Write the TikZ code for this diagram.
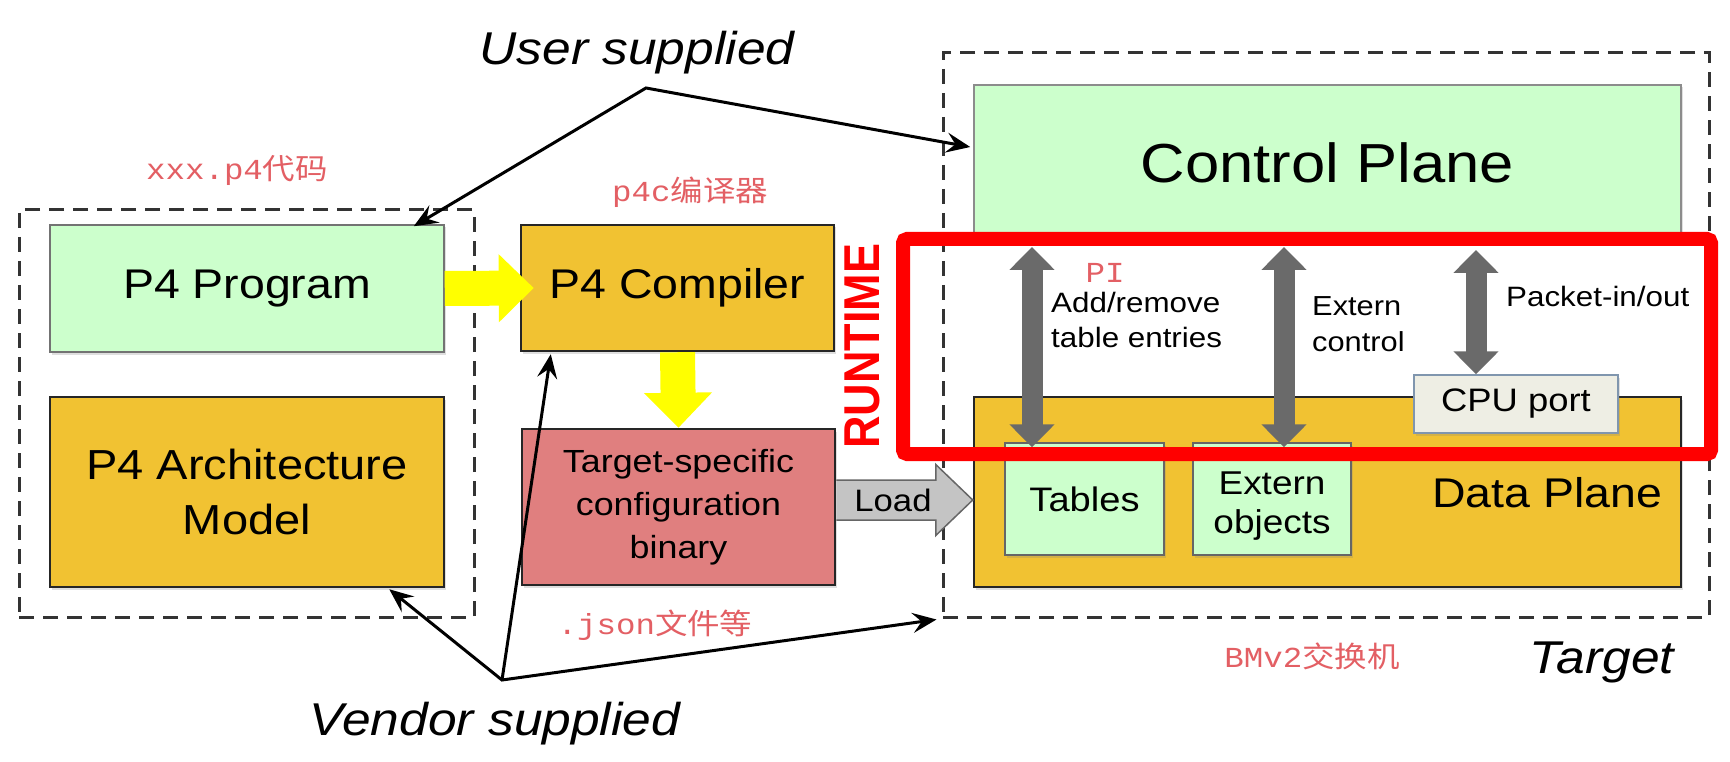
\documentclass[tikz,border=0pt]{standalone}
\usepackage{fontspec}
\setmainfont{Liberation Sans}
\newfontfamily\monofnt{Liberation Mono}
\newfontfamily\cjkfnt{Noto Sans CJK SC}
\usepackage{graphicx}
\usetikzlibrary{arrows.meta,calc,shadows}
\newcommand\sx[1]{\scalebox{1.12}[1]{#1}}
\newcommand\fsz[2]{\fontsize{#1}{#2}\selectfont}
\definecolor{lgreen}{HTML}{CCFFCC}
\definecolor{gold}{HTML}{F1C232}
\definecolor{salmon}{HTML}{E07F7F}
\definecolor{cpufill}{HTML}{EEEEE4}
\definecolor{cpuline}{HTML}{8096AE}
\definecolor{darrow}{HTML}{6A6A6A}
\definecolor{redlbl}{HTML}{E35F64}
\definecolor{loadgray}{HTML}{C4C4C4}
\definecolor{yell}{HTML}{FFFF00}
\begin{document}
\begin{tikzpicture}[x=1pt,y=-1pt,
  box/.style={rectangle, inner sep=0pt, align=center, line width=2.5pt, draw=black!85,
    drop shadow={shadow xshift=1.5pt, shadow yshift=-2.5pt, opacity=0.25}},
  dashbox/.style={rectangle, inner sep=0pt, draw=black!80, line width=3pt, dash pattern=on 15pt off 9pt},
  tharr/.style={line width=3pt, line join=miter, >={Stealth[length=24pt,width=20pt,inset=9pt]}},
  darr/.style={line width=21pt, draw=darrow, >={Triangle[width=44pt,length=23pt]}, <->},
  yarr/.style={line width=35pt, draw=yell, >={Triangle[width=66pt,length=35pt]}, ->},
  redlabel/.style={text=redlbl, inner sep=0pt, font=\fsz{29}{34}},
  italic/.style={inner sep=0pt, font=\itshape\fsz{46}{50}},
  small/.style={inner sep=0pt, align=left, font=\fsz{28}{35}}
]
\useasboundingbox (0,0) rectangle (1730,762);
\fill[white] (0,0) rectangle (1730,762);

% dashed groups
\node[dashbox, minimum width=455pt, minimum height=407pt] (leftdash) at (246.5,413.5) {};
\node[dashbox, minimum width=766pt, minimum height=564pt] (targetdash) at (1326,335) {};

% boxes
\node[box, fill=lgreen, draw=black!55, line width=1.5pt, minimum width=394pt, minimum height=127pt, font=\fsz{41.5}{50}] (prog) at (247,288.5) {\sx{P4 Program}};
\node[box, fill=gold, minimum width=394pt, minimum height=190pt, font=\fsz{42}{55}] (arch) at (247,492) {\sx{P4 Architecture}\\\sx{Model}};
\node[box, fill=gold, minimum width=313pt, minimum height=126pt, font=\fsz{41.5}{50}] (comp) at (677.5,288) {\sx{P4 Compiler}};
\node[box, fill=salmon, minimum width=313pt, minimum height=156pt, font=\fsz{32}{43}] (tgt) at (678.5,507) {\sx{Target-specific}\\\sx{configuration}\\\sx{binary}};
\node[box, fill=lgreen, draw=black!45, line width=1.5pt, minimum width=707pt, minimum height=155pt, font=\fsz{55}{60}] (cp) at (1327.5,162.5) {\sx{Control Plane}};
\node[box, fill=gold, minimum width=707pt, minimum height=190pt] (dp) at (1327.5,492) {};
\node[inner sep=0pt, anchor=base, font=\fsz{41.5}{50}] (dplabel) at (1547,507) {\sx{Data Plane}};
\node[box, fill=lgreen, draw=black!60, line width=1.5pt, minimum width=159pt, minimum height=112pt, font=\fsz{34}{40}] (tables) at (1084.5,499) {\sx{Tables}};
\node[box, fill=lgreen, draw=black!60, line width=1.5pt, minimum width=158pt, minimum height=112pt] (extern) at (1272,499) {};
\node[inner sep=0pt, align=center, font=\fsz{33}{39}] (externlbl) at (1272,506) {\sx{Extern}\\\sx{objects}};
\node[box, fill=cpufill, draw=cpuline, line width=1.5pt, minimum width=204pt, minimum height=58pt, font=\fsz{32.5}{38}] (cpu) at (1516,404) {\sx{CPU port}};

% labels
\node[italic, anchor=base] (user) at (637,65) {\sx{User supplied}};
\node[italic, anchor=base] (vendor) at (495,735) {\sx{Vendor supplied}};
\node[italic, anchor=base] (target) at (1602,673) {\sx{Target}};
\node[redlabel, anchor=base] (xxx) at (237,180) {\sx{{\monofnt xxx.p4}{\cjkfnt 代码}}};
\node[redlabel, anchor=base] (p4c) at (690,202) {\sx{{\monofnt p4c}{\cjkfnt 编译器}}};
\node[redlabel, anchor=base] (json) at (655,634) {\sx{{\monofnt .json}{\cjkfnt 文件等}}};
\node[redlabel, anchor=base] (bmv2) at (1312,667) {\sx{{\monofnt BMv2}{\cjkfnt 交换机}}};
\node[redlabel, anchor=base] (pi) at (1105,282) {\sx{\monofnt PI}};
\node[small, anchor=west] (addrm) at (1051,320) {\sx{Add/remove}\\\sx{table entries}};
\node[small, anchor=west, font=\fsz{27.5}{36}] (extctl) at (1312,324) {\sx{Extern}\\\sx{control}};
\node[small, anchor=west] (pkt) at (1506,296) {\sx{Packet-in/out}};

% yellow flow arrows
\draw[yarr] (prog.east) -- ([xshift=14pt]comp.west);
\draw[yarr] (comp.south) -- (tgt.north);

% load arrow
\coordinate (ltail) at ($(tgt.east)+(0,-7)$);
\coordinate (ltip) at (dp.west |- ltail);
\filldraw[fill=loadgray, draw=black!60, line width=1.5pt, line join=miter]
  ($(ltail)+(0,-20)$) -- ($(ltip)+(-37,-20)$) -- ($(ltip)+(-37,-35.5)$) -- (ltip)
  -- ($(ltip)+(-37,35.5)$) -- ($(ltip)+(-37,20)$) -- ($(ltail)+(0,20)$);
\node[inner sep=0pt, font=\fsz{31}{36}] (load) at (893,500) {\sx{Load}};

% user / vendor pointers
\coordinate (uapex) at (646,88);
\coordinate (uP) at ($(prog.north east)+(-31,2)$);
\coordinate (uC) at ($(cp.west)+(-3,-15.5)$);
\draw[tharr, <->] (uP) -- (uapex) -- (uC);
\coordinate (vapex) at (502,680);
\coordinate (vA) at ($(arch.south east)+(-56,1)$);
\coordinate (vC) at ($(comp.south west)+(31,2)$);
\coordinate (vT) at ($(targetdash.south west)+(-5,1)$);
\draw[tharr, <->] (vA) -- (vapex) -- (vT);
\draw[tharr, ->] (vapex) -- (vC);

% runtime interface arrows
\coordinate (a1t) at (1032,247);
\coordinate (a2t) at (1284,247);
\coordinate (a3t) at (1476,250);
\draw[darr] (a1t) -- ($(tables.north -| a1t)+(0,5)$);
\draw[darr] (a2t) -- ($(extern.north -| a2t)+(0,5)$);
\draw[darr] (a3t) -- (cpu.north -| a3t);

% runtime box
\node[draw=red, line width=14pt, rounded corners=4pt, inner sep=0pt, minimum width=808pt, minimum height=215pt] (rt) at (1307,346.5) {};
\node[rotate=90, inner sep=0pt, text=red, font=\bfseries\fsz{45}{50}] (runtime) at (862,346) {\scalebox{1}[1.12]{RUNTIME}};
\end{tikzpicture}
\end{document}
